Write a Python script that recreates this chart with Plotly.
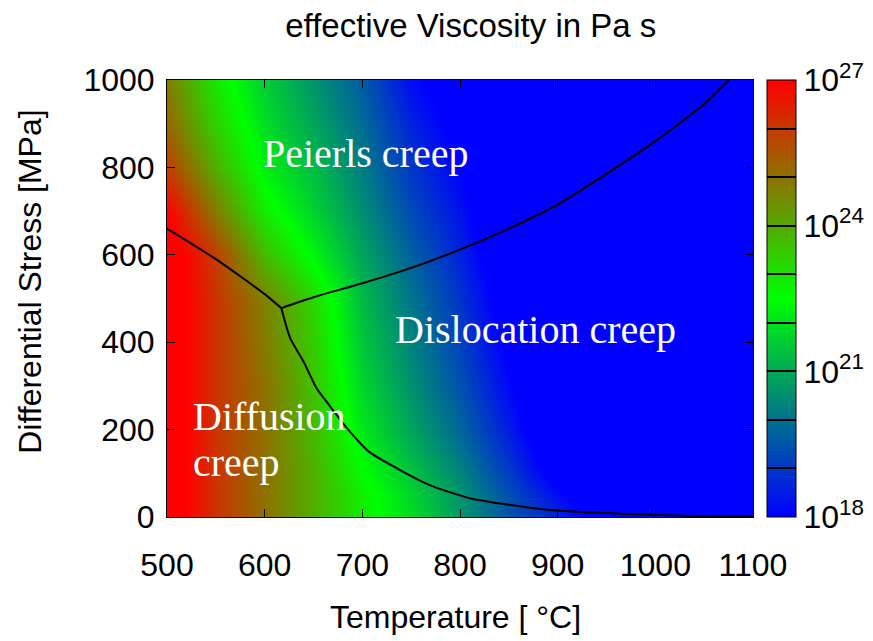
import plotly.graph_objects as go

# ---------------- data ----------------
temperature = [500, 550, 600, 650, 700, 750, 800, 850, 900, 950, 1000, 1050, 1100]
stress = [0, 50, 100, 150, 200, 300, 400, 500, 600, 700, 800, 900, 1000]

# log10(effective viscosity [Pa s]); rows = stress, cols = temperature
log_viscosity = [
    [27.6, 26.1, 25.0, 23.9, 22.8, 21.9, 20.7, 19.5, 18.6, 17.7, 17.0, 16.3, 15.7],
    [27.6, 26.1, 25.0, 23.9, 22.8, 21.75, 20.6, 19.4, 18.2, 17.0, 15.85, 14.79, 13.69],
    [27.6, 26.1, 25.0, 23.9, 22.55, 21.45, 20.35, 19.05, 17.6, 16.4, 15.2, 14.1, 13.0],
    [27.6, 26.1, 25.0, 23.8, 22.32, 21.15, 20.05, 18.75, 17.3, 16.0, 14.8, 13.7, 12.6],
    [27.6, 26.1, 25.0, 23.72, 22.1, 20.9, 19.8, 18.5, 17.0, 15.71, 14.51, 13.41, 12.31],
    [27.6, 26.1, 25.0, 23.55, 21.76, 20.55, 19.45, 18.1, 16.6, 15.31, 14.11, 13.01, 11.91],
    [27.6, 26.1, 24.82, 23.37, 21.5, 20.3, 19.15, 17.8, 16.3, 15.02, 13.82, 12.72, 11.62],
    [27.6, 26.1, 24.7, 23.2, 21.28, 20.05, 18.9, 17.5, 16.0, 14.79, 13.59, 12.49, 11.39],
    [27.6, 25.9, 23.7, 22.3, 20.9, 19.7, 18.6, 17.2, 15.81, 14.61, 13.41, 12.31, 11.21],
    [27.0, 24.8, 22.8, 21.7, 20.5, 19.3, 18.3, 16.96, 15.66, 14.46, 13.26, 12.16, 11.06],
    [25.9, 23.9, 22.2, 21.3, 20.2, 18.95, 18.0, 16.8, 15.52, 14.32, 13.12, 12.02, 10.92],
    [25.2, 23.3, 21.9, 20.9, 19.9, 18.6, 17.7, 16.6, 15.41, 14.21, 13.01, 11.91, 10.81],
    [24.8, 22.9, 21.6, 20.6, 19.6, 18.2, 17.4, 16.4, 15.3, 14.1, 12.9, 11.8, 10.7],
]

# mechanism boundaries
diff_peierls_T = [500, 550, 600, 617]
diff_peierls_S = [660, 590, 510, 478]
peierls_disl_T = [617, 650, 700, 750, 800, 850, 900, 950, 1000, 1050, 1075]
peierls_disl_S = [478, 503, 535, 570, 612, 660, 715, 785, 860, 945, 1000]
diff_disl_T = [617, 626, 640, 653, 666, 684, 707, 735, 769, 810, 850, 892, 950, 995, 1050, 1100]
diff_disl_S = [478, 410, 355, 295, 256, 204, 149, 112, 73, 43, 28, 16, 9, 5, 2, 1]

cbar_vals = [18, 19, 20, 21, 22, 23, 24, 25, 26, 27]
cbar_text = ["10<sup>18</sup>", "", "", "10<sup>21</sup>", "", "", "10<sup>24</sup>", "", "", "10<sup>27</sup>"]

x_ticks = [500, 600, 700, 800, 900, 1000, 1100]
y_ticks = [0, 200, 400, 600, 800, 1000]

SANS = "Liberation Sans, Arial, sans-serif"
SERIF = "Liberation Serif, Times New Roman, serif"

fig = go.Figure()
fig.add_trace(go.Heatmap(
    x=temperature, y=stress, z=log_viscosity,
    zmin=18, zmax=27, zsmooth="best",
    colorscale=[[0, "rgb(0,0,255)"], [0.5, "rgb(0,255,0)"], [1, "rgb(255,0,0)"]],
    hoverinfo="skip",
    colorbar=dict(
        x=1.024, xanchor="left", xpad=0, ypad=0,
        y=0.5, yanchor="middle", len=1, lenmode="fraction",
        thickness=29, thicknessmode="pixels",
        outlinewidth=1, outlinecolor="black",
        tickvals=cbar_vals, ticktext=cbar_text,
        ticks="inside", ticklen=29, tickwidth=2, tickcolor="black",
        tickfont=dict(size=32, family=SANS, color="black"),
    ),
))

for tx, sy in [(diff_peierls_T, diff_peierls_S), (peierls_disl_T, peierls_disl_S), (diff_disl_T, diff_disl_S)]:
    fig.add_trace(go.Scatter(x=tx, y=sy, mode="lines",
                             line=dict(color="black", width=2, shape="spline", smoothing=0.6),
                             showlegend=False, hoverinfo="skip"))

axis_common = dict(
    ticks="inside", ticklen=8, tickwidth=1, tickcolor="black",
    showline=True, linecolor="black", linewidth=1, mirror="ticks",
    showgrid=False, zeroline=False, automargin=False,
    tickfont=dict(size=32, family=SANS, color="black"),
)

# page body adds an 8 px offset, so the figure is 865x633 to fill the 873x641 window
fig.update_layout(
    width=865, height=633,
    margin=dict(l=159, r=120, t=72, b=124, autoexpand=False),
    paper_bgcolor="white", plot_bgcolor="white",
    showlegend=False,
    title=dict(text="effective Viscosity in Pa s", x=0.535, xanchor="center",
               y=0.972, yanchor="middle",
               font=dict(size=33, family=SANS, color="black")),
    xaxis=dict(range=[500, 1100], tickvals=x_ticks, ticklabelstandoff=20, **axis_common),
    yaxis=dict(range=[0, 1000], tickvals=y_ticks, ticklabelstandoff=5, **axis_common),
    annotations=[
        dict(text="Temperature [ °C]", xref="paper", yref="paper", x=0.493, y=-0.229,
             xanchor="center", yanchor="middle", showarrow=False,
             font=dict(size=32, family=SANS, color="black")),
        dict(text="Differential Stress [MPa]", xref="paper", yref="paper", x=-0.234, y=0.538,
             xanchor="center", yanchor="middle", textangle=-90, showarrow=False,
             font=dict(size=32, family=SANS, color="black")),
        dict(text="Peierls creep", x=703, y=831, xanchor="center", yanchor="middle",
             showarrow=False, font=dict(size=40, family=SERIF, color="white")),
        dict(text="Dislocation creep", x=877, y=430, xanchor="center", yanchor="middle",
             showarrow=False, font=dict(size=40, family=SERIF, color="white")),
        dict(text="Diffusion", x=525, y=231, xanchor="left", yanchor="middle",
             showarrow=False, font=dict(size=40, family=SERIF, color="white")),
        dict(text="creep", x=525, y=124, xanchor="left", yanchor="middle",
             showarrow=False, font=dict(size=40, family=SERIF, color="white")),
    ],
)

fig.write_html("out.html")
